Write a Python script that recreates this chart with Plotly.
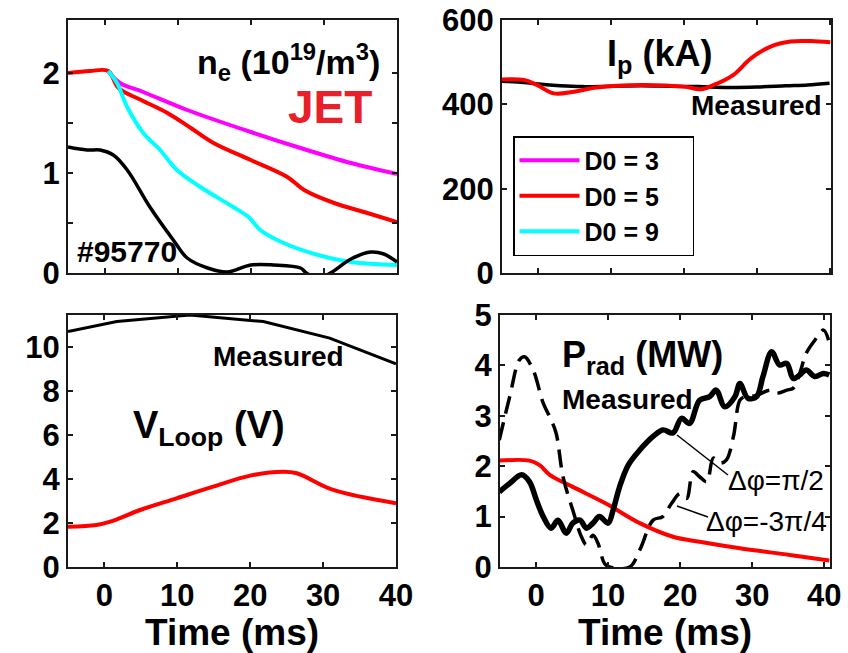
import plotly.graph_objects as go

W, H = 848, 653
FONT = "Liberation Sans, Arial, sans-serif"

# ---------------- n_e panel ----------------
ne_t_red = [-5, -2, 0.5, 1.9, 5, 8.6, 11.8, 14.9, 20, 25, 27.3, 31.4, 35.5, 40]
ne_red = [2.0, 2.02, 2.02, 1.85, 1.73, 1.6, 1.45, 1.30, 1.13, 0.96, 0.83, 0.70, 0.61, 0.51]
ne_t_mag = [0.5, 2.1, 5.3, 11.3, 20, 26.8, 33.7, 40]
ne_mag = [2.02, 1.90, 1.81, 1.63, 1.41, 1.25, 1.10, 0.99]
ne_t_cyan = [0.5, 1.7, 3.1, 5.3, 7.6, 9.9, 13.1, 17.6, 19.7, 21.3, 24.5, 29.2, 33.7, 40]
ne_cyan = [2.02, 1.90, 1.66, 1.40, 1.23, 1.03, 0.86, 0.66, 0.56, 0.43, 0.30, 0.18, 0.11, 0.08]
ne_t_meas = [-5, -2.4, -0.6, 1.2, 3.1, 6.2, 9.4, 11.3, 14.1, 16.8, 20, 23.1, 26.8, 27.6,
             29.2, 30.9, 33.7, 36.4, 38.2, 40]
ne_meas = [1.26, 1.23, 1.23, 1.18, 1.03, 0.66, 0.33, 0.15, 0.05, 0.01, 0.08, 0.08, 0.05, 0.0,
           -0.05, 0.0, 0.14, 0.21, 0.19, 0.11]

# ---------------- I_p panel ----------------
ip_t_meas = [-5, -2, 0, 3, 6, 10, 14, 18, 22, 26, 30, 34, 37, 40]
ip_meas = [455, 452, 448, 444, 442, 443, 444, 443, 442, 440, 441, 444, 446, 450]
ip_t_sim = [-5, -2.0, -0.2, 2.1, 4.9, 8.0, 14.1, 20, 22.3, 24.1, 26.8, 29.2, 31.9, 34.6, 37.4, 40.1]
ip_sim = [459, 458, 446, 426, 430, 440, 446, 442, 436, 446, 470, 509, 537, 549, 550, 547]

# ---------------- V_loop panel ----------------
vl_t_meas = [-5, 1.7, 11.7, 21.8, 30.9, 40]
vl_meas = [10.7, 11.15, 11.45, 11.15, 10.4, 9.23]
vl_t_sim = [-5, -1.1, 0.8, 4.9, 9.9, 14.9, 20, 24.5, 26.4, 31.4, 40]
vl_sim = [1.83, 1.91, 2.06, 2.59, 3.12, 3.65, 4.15, 4.33, 4.26, 3.5, 2.9]

# ---------------- P_rad panel ----------------
pr_t_sim = [-5.1, -0.9, 0.5, 1.9, 5.1, 9.7, 14.4, 19.0, 22.7, 28.3, 35.2, 40.7]
pr_sim = [2.11, 2.11, 2.02, 1.83, 1.59, 1.26, 0.87, 0.60, 0.50, 0.37, 0.24, 0.13]
pr_t_a = [-5.1, -3.65, -2.0, -0.9, 0.05, 1.0, 2.1, 3.05, 4.2, 5.1, 6.1, 7.0, 7.9, 8.8, 10.0,
          10.7, 11.6, 12.8, 14.4, 16.25, 17.6, 19.0, 20.2, 21.3, 22.7, 24.1, 25.0, 26.2,
          27.6, 28.3, 29.4, 30.6, 31.5, 32.7, 33.8, 34.8, 35.7, 36.6, 37.5, 38.7, 39.9, 40.7]
pr_a = [1.49, 1.66, 1.83, 1.69, 1.33, 1.0, 0.77, 0.93, 0.67, 0.87, 0.93, 0.77, 0.87, 1.0, 0.87,
        1.13, 1.59, 2.02, 2.32, 2.59, 2.72, 2.66, 2.95, 2.85, 3.31, 3.38, 3.51, 3.18,
        3.38, 3.64, 3.35, 3.38, 3.78, 4.27, 4.01, 4.04, 3.74, 3.81, 3.91, 3.78, 3.84, 3.81]
pr_t_b = [-5.1, -3.65, -2.3, -1.6, -0.4, 1.0, 2.1, 2.8, 3.75, 5.1, 6.3, 7.0, 7.9, 8.6, 9.5,
          10.2, 13.0, 14.4, 16.25, 17.6, 18.8, 20.0, 20.9, 21.8, 22.7, 23.7, 24.6, 25.5,
          26.4, 27.4, 28.3, 29.0, 30.5, 32.5, 33.4, 34.8, 35.7, 36.6, 37.5, 38.7, 39.9, 40.6]
pr_b = [2.52, 3.38, 4.11, 4.17, 3.91, 3.25, 2.92, 2.65, 1.79, 1.13, 0.60, 0.44, 0.63, 0.47, 0.07,
        0.0, 0.0, 0.34, 0.93, 1.0, 1.26, 1.46, 1.36, 1.89, 1.79, 1.69, 2.16, 2.06,
        2.12, 2.59, 3.31, 3.38, 3.40, 3.51, 3.45, 3.51, 3.55, 3.84, 4.24, 4.50, 4.70, 4.50]

x_ticks = [0, 10, 20, 30, 40]
legend_names = ["D0 = 3", "D0 = 5", "D0 = 9"]

MAG, RED, CYAN, BLK = "#FF00FF", "#FF0000", "#00FFFF", "#000000"
PAD = "\u00a0\u00a0\u00a0\u00a0"

fig = go.Figure()
# legend traces (n_e panel)
fig.add_trace(go.Scatter(x=ne_t_mag, y=ne_mag, mode="lines", name=legend_names[0] + PAD,
                         line=dict(color=MAG, width=4, shape="spline"), xaxis="x", yaxis="y"))
fig.add_trace(go.Scatter(x=ne_t_red, y=ne_red, mode="lines", name=legend_names[1] + PAD,
                         line=dict(color=RED, width=4, shape="spline"), xaxis="x", yaxis="y"))
fig.add_trace(go.Scatter(x=ne_t_cyan, y=ne_cyan, mode="lines", name=legend_names[2] + PAD,
                         line=dict(color=CYAN, width=4, shape="spline"), xaxis="x", yaxis="y"))
fig.add_trace(go.Scatter(x=ne_t_meas, y=ne_meas, mode="lines", showlegend=False,
                         line=dict(color=BLK, width=3.5, shape="spline"), xaxis="x", yaxis="y"))
# I_p
fig.add_trace(go.Scatter(x=ip_t_meas, y=ip_meas, mode="lines", showlegend=False,
                         line=dict(color=BLK, width=3.5, shape="spline"), xaxis="x2", yaxis="y2"))
fig.add_trace(go.Scatter(x=ip_t_sim, y=ip_sim, mode="lines", showlegend=False,
                         line=dict(color=RED, width=4, shape="spline"), xaxis="x2", yaxis="y2"))
# V_loop
fig.add_trace(go.Scatter(x=vl_t_meas, y=vl_meas, mode="lines", showlegend=False,
                         line=dict(color=BLK, width=3), xaxis="x3", yaxis="y3"))
fig.add_trace(go.Scatter(x=vl_t_sim, y=vl_sim, mode="lines", showlegend=False,
                         line=dict(color=RED, width=4, shape="spline"), xaxis="x3", yaxis="y3"))
# P_rad
fig.add_trace(go.Scatter(x=pr_t_sim, y=pr_sim, mode="lines", showlegend=False,
                         line=dict(color=RED, width=4, shape="spline"), xaxis="x4", yaxis="y4"))
fig.add_trace(go.Scatter(x=pr_t_b, y=pr_b, mode="lines", showlegend=False,
                         line=dict(color=BLK, width=3.5, dash="18px,9px", shape="spline"),
                         xaxis="x4", yaxis="y4"))
fig.add_trace(go.Scatter(x=pr_t_a, y=pr_a, mode="lines", showlegend=False,
                         line=dict(color=BLK, width=5.5, shape="spline"), xaxis="x4", yaxis="y4"))


def px(x):
    return x / W


def py(y):
    return 1 - y / H


def axis(domain, anchor, rng, tickvals, labels=True, minor=None):
    d = dict(domain=domain, anchor=anchor, range=rng, tickvals=tickvals,
             automargin=False,
             showline=True, mirror="ticks", linecolor="#1a1a1a", linewidth=2,
             ticks="inside", ticklen=5, tickwidth=1.5, tickcolor="#1a1a1a",
             showgrid=False, zeroline=False, showticklabels=labels,
             tickfont=dict(family=FONT, size=31, color="black", weight="bold"))
    if minor is not None:
        d["minor"] = dict(tickvals=minor, ticks="inside", ticklen=5, tickwidth=1.5,
                          tickcolor="#1a1a1a", showgrid=False)
    return d


layout = dict(
    width=W, height=H, margin=dict(l=0, r=0, t=0, b=0, autoexpand=False),
    paper_bgcolor="white", plot_bgcolor="white",
    font=dict(family=FONT, color="black"),
    xaxis=axis([px(68), px(397)], "y", [-5, 40], x_ticks, labels=False),
    yaxis=axis([py(273), py(20)], "x", [0, 2.53], [0, 1, 2], minor=[0.5, 1.5]),
    xaxis2=axis([px(502), px(831)], "y2", [-5, 40.2], x_ticks, labels=False),
    yaxis2=axis([py(273), py(20)], "x2", [0, 600], [0, 200, 400, 600]),
    xaxis3=axis([px(68), px(396)], "y3", [-5, 40], x_ticks),
    yaxis3=axis([py(567), py(315)], "x3", [0, 11.45], [0, 2, 4, 6, 8, 10]),
    xaxis4=axis([px(500), px(830)], "y4", [-5, 40.8], x_ticks),
    yaxis4=axis([py(567), py(315)], "x4", [0, 5], [0, 1, 2, 3, 4, 5]),
    showlegend=True,
    legend=dict(x=px(513), y=py(136), xanchor="left", yanchor="top",
                bgcolor="white", bordercolor="black", borderwidth=1.5,
                font=dict(family=FONT, size=25, color="black", weight="bold"),
                itemwidth=60),
)
fig.update_layout(**layout)

for ax in ["xaxis3", "xaxis4"]:
    fig.layout[ax].title = dict(text="Time (ms)", standoff=2,
                                font=dict(family=FONT, size=37, color="black", weight="bold"))


def ann(text, x, y, size, color="black", bold=True, xanchor="center", yanchor="middle"):
    fig.add_annotation(text=text, x=px(x), y=py(y), xref="paper", yref="paper",
                       showarrow=False, xanchor=xanchor, yanchor=yanchor,
                       font=dict(family=FONT, size=size, color=color,
                                 weight="bold" if bold else "normal"))


ann("n<sub>e</sub> (10<sup>19</sup>/m<sup>3</sup>)", 382, 62, 34, xanchor="right")
ann("JET", 374, 107, 46, color="#E8202A", xanchor="right")
ann("#95770", 75, 251, 30, xanchor="left")
ann("I<sub>p</sub> (kA)", 659, 56, 36)
ann("Measured", 824, 105, 28, xanchor="right")
ann("Measured", 278, 357, 28)
ann("V<sub>Loop</sub> (V)", 209, 428, 38)
ann("P<sub>rad</sub> (MW)", 642, 357, 36)
ann("Measured", 627, 399, 28)
ann("Δφ=π/2", 776, 480, 28, bold=False)
ann("Δφ=-3π/4", 766, 521, 28, bold=False)

for (x0, y0, x1, y1) in [(677, 435, 728, 475), (677, 506, 708, 517)]:
    fig.add_shape(type="line", xref="paper", yref="paper",
                  x0=px(x0), y0=py(y0), x1=px(x1), y1=py(y1),
                  line=dict(color="black", width=1.5))

fig.write_html("out.html")
